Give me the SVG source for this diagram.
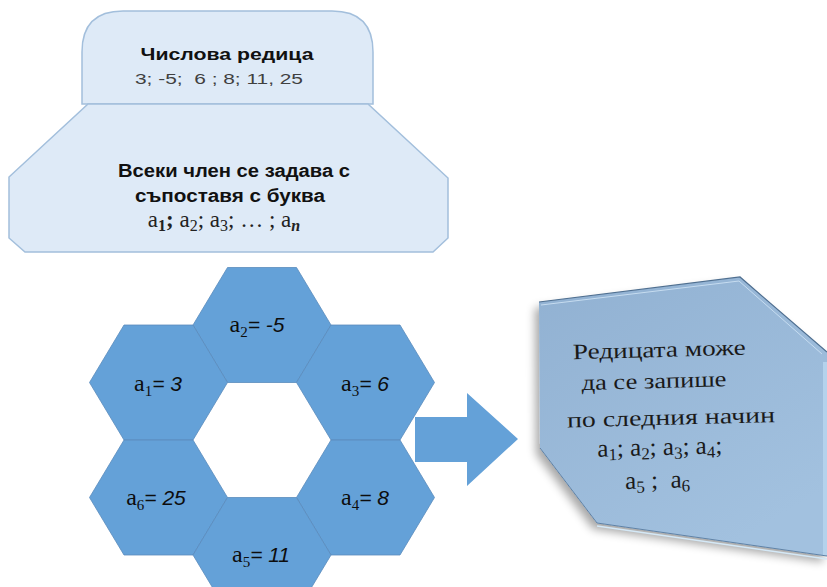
<svg xmlns="http://www.w3.org/2000/svg" width="827" height="587" viewBox="0 0 827 587">
<style>
.lt{fill:#deeaf7;stroke:#a3bfdc;stroke-width:1.5}
.hex{fill:#64a1d8;stroke:#5a8cbc;stroke-width:0.8}
.bt{font-family:"Liberation Sans",Arial,sans-serif;font-weight:bold;fill:#111;text-anchor:middle}
.ser{font-family:"Liberation Serif","DejaVu Serif",serif}
.hl{font-size:21px;fill:#0d0d0d;text-anchor:middle}
.it{font-family:"Liberation Sans",Arial,sans-serif;font-style:italic}
.rt{font-family:"Liberation Serif","DejaVu Serif",serif;fill:#1a1a1a;text-anchor:middle}
</style>
<defs>
<linearGradient id="g1" x1="0" y1="0" x2="0.6" y2="1">
<stop offset="0" stop-color="#91b1d2"/>
<stop offset="1" stop-color="#a2c1df"/>
</linearGradient>
<filter id="sh" x="-20%" y="-20%" width="140%" height="140%">
<feGaussianBlur in="SourceAlpha" stdDeviation="5"/>
<feOffset dx="-4" dy="6" result="b"/>
<feComponentTransfer><feFuncA type="linear" slope="0.35"/></feComponentTransfer>
<feMerge><feMergeNode/><feMergeNode in="SourceGraphic"/></feMerge>
</filter>
</defs>

<g id="node-seq">
<path class="lt" d="M82,104 L82,52 Q82,11 123,11 L332,11 Q373,11 373,52 L373,104 Z"/>
<text class="bt" x="227" y="60" font-size="17" textLength="173" lengthAdjust="spacingAndGlyphs">Числова редица</text>
<text x="219" y="84" font-family="Liberation Sans,Arial,sans-serif" font-size="15" fill="#404040" text-anchor="middle" xml:space="preserve" textLength="168" lengthAdjust="spacingAndGlyphs">3; -5;  6 ; 8; 11, 25</text>
</g>

<g id="node-each">
<path class="lt" d="M88,104 L368,104 L448,178 L448,238 L433,252 L25,252 L9,238 L9,177 Z"/>
<text class="bt" x="234" y="177" font-size="18" textLength="232" lengthAdjust="spacingAndGlyphs">Всеки член се задава с</text>
<text class="bt" x="230" y="202" font-size="18" textLength="190" lengthAdjust="spacingAndGlyphs">съпоставя с буква</text>
<text class="ser" x="224" y="227" font-size="23" fill="#222" text-anchor="middle">a<tspan font-size="16" dy="4" font-weight="bold">1</tspan><tspan dy="-4" font-weight="bold">;</tspan> a<tspan font-size="16" dy="4">2</tspan><tspan dy="-4">; a</tspan><tspan font-size="16" dy="4">3</tspan><tspan dy="-4">; … ; a</tspan><tspan font-size="16" dy="4" font-style="italic" font-weight="bold">n</tspan></text>
</g>

<g id="connectors">
<polygon points="415,417 467,417 467,393 518,439 467,486 467,462 415,462" fill="#64a1d8"/>
</g>

<g id="node-a2">
<polygon class="hex" points="193,325 227.5,267.5 296.5,267.5 331,325 296.5,382.5 227.5,382.5"/>
<text class="hl" x="257" y="332"><tspan class="ser" font-size="24">a</tspan><tspan class="ser" font-size="15" dy="5">2</tspan><tspan class="it" dy="-5">= -5</tspan></text>
</g>
<g id="node-a1">
<polygon class="hex" points="89.5,382.5 124,325 193,325 227.5,382.5 193,440 124,440"/>
<text class="hl" x="158" y="391"><tspan class="ser" font-size="24">a</tspan><tspan class="ser" font-size="15" dy="5">1</tspan><tspan class="it" dy="-5">= 3</tspan></text>
</g>
<g id="node-a3">
<polygon class="hex" points="296.5,382.5 331,325 400,325 434.5,382.5 400,440 331,440"/>
<text class="hl" x="365" y="391"><tspan class="ser" font-size="24">a</tspan><tspan class="ser" font-size="15" dy="5">3</tspan><tspan class="it" dy="-5">= 6</tspan></text>
</g>
<g id="node-a6">
<polygon class="hex" points="89.5,497.5 124,440 193,440 227.5,497.5 193,555 124,555"/>
<text class="hl" x="156" y="505"><tspan class="ser" font-size="24">a</tspan><tspan class="ser" font-size="15" dy="5">6</tspan><tspan class="it" dy="-5">= 25</tspan></text>
</g>
<g id="node-a4">
<polygon class="hex" points="296.5,497.5 331,440 400,440 434.5,497.5 400,555 331,555"/>
<text class="hl" x="365" y="505"><tspan class="ser" font-size="24">a</tspan><tspan class="ser" font-size="15" dy="5">4</tspan><tspan class="it" dy="-5">= 8</tspan></text>
</g>
<g id="node-a5">
<polygon class="hex" points="193,555 227.5,497.5 296.5,497.5 331,555 296.5,612.5 227.5,612.5"/>
<text class="hl" x="261" y="562"><tspan class="ser" font-size="24">a</tspan><tspan class="ser" font-size="15" dy="5">5</tspan><tspan class="it" dy="-5">= 11</tspan></text>
</g>

<g id="node-result">
<polygon points="539,302 740,277 827,352 827,556 597,523 540,448" fill="url(#g1)" filter="url(#sh)"/>
<polyline points="539,302 740,277 827,352" fill="none" stroke="#4f6f90" stroke-width="1.2"/>
<polyline points="541,305 739,281 822,354" fill="none" stroke="#c6dcf0" stroke-width="1"/>
<polyline points="540,448 597,523 827,556" fill="none" stroke="#5f82a6" stroke-width="1"/>
<polyline points="597,526 827,559" fill="none" stroke="#d4e8f6" stroke-width="1.5"/>
<rect x="823" y="362" width="4" height="193" fill="#b4d2ec"/>
<g transform="rotate(-1.5 660 420)">
<text class="rt" x="661" y="357" font-size="22" textLength="173" lengthAdjust="spacingAndGlyphs">Редицата може</text>
<text class="rt" x="655" y="388" font-size="22" textLength="145" lengthAdjust="spacingAndGlyphs">да се запише</text>
<text class="rt" x="671" y="425" font-size="22" textLength="208" lengthAdjust="spacingAndGlyphs">по следния начин</text>
<text class="rt" x="659" y="455" font-size="25">a<tspan font-size="17" dy="4">1</tspan><tspan dy="-4">; a</tspan><tspan font-size="17" dy="4">2</tspan><tspan dy="-4">; a</tspan><tspan font-size="17" dy="4">3</tspan><tspan dy="-4">; a</tspan><tspan font-size="17" dy="4">4</tspan><tspan dy="-4">;</tspan></text>
<text class="rt" x="656" y="488" font-size="25" xml:space="preserve">a<tspan font-size="17" dy="4">5</tspan><tspan dy="-4"> ;  a</tspan><tspan font-size="17" dy="4">6</tspan></text>
</g>
</g>
</svg>
